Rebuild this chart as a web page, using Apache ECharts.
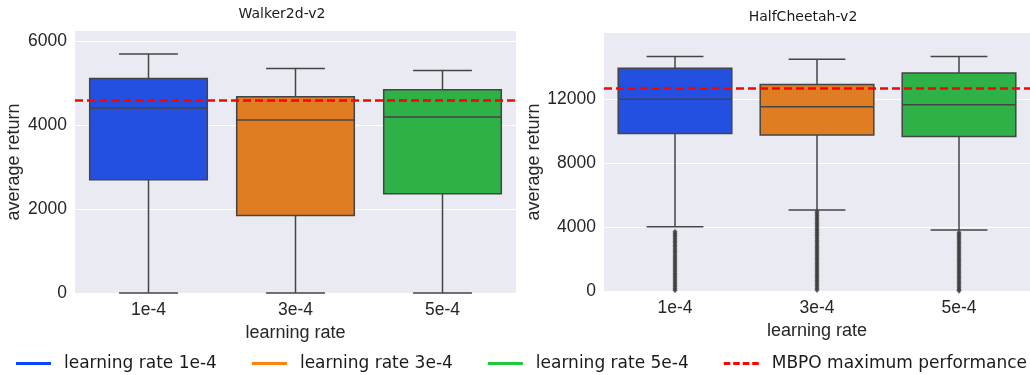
<!DOCTYPE html>
<html>
<head>
<meta charset="utf-8">
<script src="https://cdn.jsdelivr.net/npm/echarts@6/dist/echarts.min.js"></script>
<style>html,body{margin:0;padding:0;background:#fff;}#c{width:1030px;height:375px;}</style>
</head>
<body>
<div id="c"></div>
<script>
// ---- data ----
const categories = ['1e-4', '3e-4', '5e-4'];
const legendNames = ['learning rate 1e-4', 'learning rate 3e-4', 'learning rate 5e-4', 'MBPO maximum performance'];
// [lower whisker, Q1, median, Q3, upper whisker]
const walkerStats = [
  [0, 2698, 4405, 5110, 5690],
  [0, 1848, 4119, 4674, 5348],
  [0, 2364, 4190, 4840, 5300]
];
const cheetahStats = [
  [4020, 9875, 12020, 13960, 14690],
  [5080, 9770, 11540, 12940, 14520],
  [3830, 9690, 11670, 13670, 14690]
];
const walkerMBPO = 4586;
const cheetahMBPO = 12730;
const cheetahOutliers1e4 = [3720, 3610, 3500, 3390, 3260, 3140, 3020, 2890, 2770, 2640, 2510, 2390, 2260, 2130, 2010, 1880, 1760, 1630, 1500, 1380, 1250, 1120, 1000, 870, 750, 620, 500, 380, 260, 140, 40];
const cheetahOutliers3e4 = [4960, 4850, 4730, 4610, 4490, 4370, 4250, 4130, 4010, 3890, 3770, 3650, 3530, 3410, 3290, 3170, 3050, 2930, 2810, 2690, 2570, 2450, 2330, 2210, 2090, 1970, 1850, 1730, 1610, 1490, 1370, 1250, 1130, 1010, 890, 770, 650, 530, 410, 290, 170, 60];
const cheetahOutliers5e4 = [3660, 3550, 3440, 3330, 3210, 3090, 2970, 2850, 2730, 2610, 2490, 2370, 2250, 2130, 2010, 1890, 1770, 1650, 1530, 1410, 1290, 1170, 1050, 930, 810, 690, 570, 450, 330, 210, 90, 20];
const walkerTickLabels = ['0', '2000', '4000', '6000'];
const cheetahTickLabels = ['0', '4000', '8000', '12000'];
const walkerTicks = {min: 0, max: 6240, interval: 2000};
const cheetahTicks = {min: 0, max: 16170, interval: 4000};

// ---- styles ----
const boxColors = ['#2350e0', '#e07d22', '#2eb147'];
const legendColors = ['#0a44ff', '#ff8210', '#1ec93c'];
const edge = '#444444';
const textColor = '#262626';
const gridBg = '#eaeaf2';

function boxData(stats) {
  return stats.map((s, i) => [i].concat(s));
}
function renderBox(params, api) {
  const idx = api.value(0);
  const band = api.size([1, 0])[0];
  const hw = band * 0.4, cw = band * 0.2;
  const pl = api.coord([idx, api.value(1)]);
  const pq1 = api.coord([idx, api.value(2)]);
  const pm = api.coord([idx, api.value(3)]);
  const pq3 = api.coord([idx, api.value(4)]);
  const ph = api.coord([idx, api.value(5)]);
  const cx = pl[0];
  const ls = {stroke: edge, lineWidth: 1.5};
  return {
    type: 'group',
    children: [
      {type: 'line', shape: {x1: cx, y1: pl[1], x2: cx, y2: pq1[1]}, style: ls},
      {type: 'line', shape: {x1: cx, y1: pq3[1], x2: cx, y2: ph[1]}, style: ls},
      {type: 'line', shape: {x1: cx - cw, y1: pl[1], x2: cx + cw, y2: pl[1]}, style: ls},
      {type: 'line', shape: {x1: cx - cw, y1: ph[1], x2: cx + cw, y2: ph[1]}, style: ls},
      {type: 'rect', shape: {x: cx - hw, y: pq3[1], width: 2 * hw, height: pq1[1] - pq3[1]},
        style: {fill: boxColors[params.dataIndex], stroke: edge, lineWidth: 1.5}},
      {type: 'line', shape: {x1: cx - hw, y1: pm[1], x2: cx + hw, y2: pm[1]}, style: ls}
    ]
  };
}
function outlierData(lists) {
  const out = [];
  lists.forEach((arr, i) => arr.forEach(v => out.push([i, v])));
  return out;
}
function xAxisCfg(gi) {
  return {
    type: 'category', gridIndex: gi, data: categories,
    axisLine: {show: false}, axisTick: {show: false}, splitLine: {show: false},
    axisLabel: {color: textColor, fontSize: 17.5, fontFamily: 'Liberation Sans', margin: 8},
    name: 'learning rate', nameLocation: 'middle', nameGap: 24,
    nameTextStyle: {color: textColor, fontSize: 18, fontFamily: 'Liberation Sans'}
  };
}
function yAxisCfg(gi, t, labels, gap) {
  // one colour per drawn split line (min and max lines are skipped)
  const lineColors = labels.slice(1).map(() => '#ffffff').concat([gridBg, 'rgba(0,0,0,0)']);
  return {
    type: 'value', gridIndex: gi, min: t.min, max: t.max, interval: t.interval,
    axisLine: {show: false}, axisTick: {show: false},
    splitLine: {show: true, showMinLine: false, showMaxLine: false, lineStyle: {color: lineColors, width: 1.2}},
    axisLabel: {color: textColor, fontSize: 17.5, fontFamily: 'Liberation Sans', margin: 8,
      showMaxLabel: false,
      formatter: v => (labels.indexOf(String(v)) >= 0 ? String(v) : '')},
    name: 'average return', nameLocation: 'middle', nameGap: gap, nameRotate: 90,
    nameTextStyle: {color: textColor, fontSize: 18, fontFamily: 'Liberation Sans'}
  };
}
function mbpoLine(v) {
  return {
    silent: true, symbol: 'none', label: {show: false}, animation: false,
    lineStyle: {color: '#ff0000', width: 2.5, type: [8, 4]},
    data: [{yAxis: v}]
  };
}

const chart = echarts.init(document.getElementById('c'), null, {renderer: 'canvas'});
const series = [
  {type: 'custom', xAxisIndex: 0, yAxisIndex: 0, renderItem: renderBox, data: boxData(walkerStats),
    encode: {x: 0, y: [1, 2, 3, 4, 5]}, z: 2, markLine: mbpoLine(walkerMBPO), animation: false},
  {type: 'custom', xAxisIndex: 1, yAxisIndex: 1, renderItem: renderBox, data: boxData(cheetahStats),
    encode: {x: 0, y: [1, 2, 3, 4, 5]}, z: 2, markLine: mbpoLine(cheetahMBPO), animation: false},
  {type: 'scatter', xAxisIndex: 1, yAxisIndex: 1, symbol: 'diamond', symbolSize: [5, 6], z: 3,
    itemStyle: {color: '#3d3d3d'}, silent: true, animation: false,
    data: outlierData([cheetahOutliers1e4, cheetahOutliers3e4, cheetahOutliers5e4])}
];
legendNames.forEach((n, i) => {
  series.push({
    type: 'line', name: n, xAxisIndex: 0, yAxisIndex: 0, data: [], symbol: 'none',
    itemStyle: {color: i < 3 ? legendColors[i] : '#ff0000'},
    lineStyle: {color: i < 3 ? legendColors[i] : '#ff0000', width: 2.5}
  });
});
const solidIcon = 'path://M0,0H35V3H0Z';
const dashIcon = 'path://M0,0H6.5V3H0Z M9.5,0H16V3H9.5Z M19,0H25.5V3H19Z M28.5,0H35V3H28.5Z';

chart.setOption({
  animation: false,
  backgroundColor: '#ffffff',
  title: [
    {text: 'Walker2d-v2', left: 282, top: 7, textAlign: 'center', padding: 0,
      textStyle: {fontFamily: 'DejaVu Sans', fontSize: 14, fontWeight: 'normal', color: '#1a1a1a'}},
    {text: 'HalfCheetah-v2', left: 803, top: 10, textAlign: 'center', padding: 0,
      textStyle: {fontFamily: 'DejaVu Sans', fontSize: 14, fontWeight: 'normal', color: '#1a1a1a'}}
  ],
  grid: [
    {left: 75, top: 31, width: 441, height: 262, show: true, backgroundColor: gridBg, borderWidth: 0},
    {left: 604, top: 33, width: 434, height: 258, show: true, backgroundColor: gridBg, borderWidth: 0}
  ],
  xAxis: [xAxisCfg(0), xAxisCfg(1)],
  yAxis: [yAxisCfg(0, walkerTicks, walkerTickLabels, 52), yAxisCfg(1, cheetahTicks, cheetahTickLabels, 59)],
  legend: {
    data: legendNames.map((n, i) => ({name: n, icon: i < 3 ? solidIcon : dashIcon})),
    left: 16, top: 355, width: 1100, itemWidth: 35, itemHeight: 3, itemGap: 35,
    padding: 0, selectedMode: false,
    textStyle: {fontFamily: 'DejaVu Sans', fontSize: 17, color: '#1a1a1a', padding: [0, 0, 0, 8]}
  },
  series: series
});
</script>
</body>
</html>
